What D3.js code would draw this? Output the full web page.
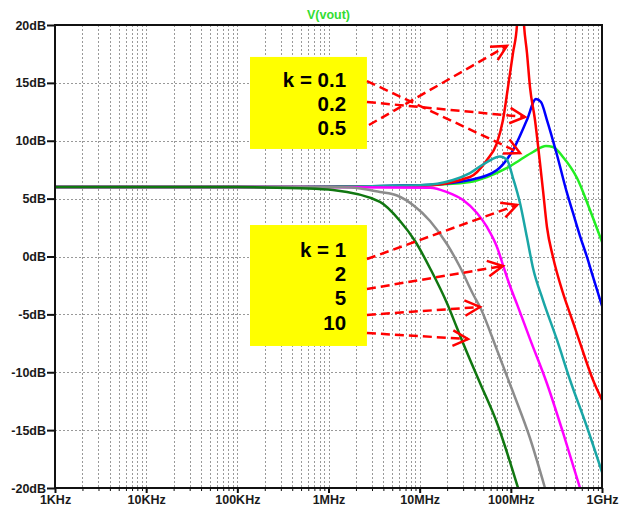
<!DOCTYPE html>
<html>
<head>
<meta charset="utf-8">
<script src="https://d3js.org/d3.v7.min.js"></script>
<style>
  body { margin: 0; background: #fff; }
  text { font-family: "Liberation Sans", Arial, sans-serif; }
</style>
</head>
<body>
<script>
// values: frequency (Hz) and gain (dB)

const tickFreqs = [1e3, 1e4, 1e5, 1e6, 1e7, 1e8, 1e9];
const tickFreqLabels = ["1KHz", "10KHz", "100KHz", "1MHz", "10MHz", "100MHz", "1GHz"];
const tickDb = [20, 15, 10, 5, 0, -5, -10, -15, -20];
const tickDbLabels = ["20dB", "15dB", "10dB", "5dB", "0dB", "-5dB", "-10dB", "-15dB", "-20dB"];

// k = 0.1 (bright green)
const fK01  = [1e3, 1e5, 4.87e5, 1.008e7, 3.56e7, 5.47e7, 9.08e7, 1.26e8, 1.75e8, 2.43e8, 2.9e8, 3.73e8, 5.32e8, 7.38e8, 1e9];
const dbK01 = [6, 6, 6, 6.15, 6.44, 6.87, 7.65, 8.34, 9.03, 9.55, 9.46, 8.6, 6.78, 4.02, 1.25];

// k = 0.2 (blue)
const fK02  = [1e3, 1e5, 4.87e5, 1.008e7, 3.56e7, 7.05e7, 1.056e8, 1.5e8, 1.887e8, 2.14e8, 2.49e8, 3.21e8, 4.13e8, 4.81e8, 5.74e8, 6.84e8, 7.97e8, 1e9];
const dbK02 = [6, 6, 6, 6.15, 6.61, 7.47, 9.2, 11.79, 13.61, 13.35, 11.79, 8.77, 5.49, 3.76, 1.77, -0.04, -1.77, -4.27];

// k = 0.5 (red), peak runs off the top
const fK05  = [1e3, 1e5, 4.87e5, 1.008e7, 3.56e7, 5.47e7, 7.05e7, 8.2e7, 9.31e7, 1.056e8, 1.168e8, 1.276e8, 1.394e8, 1.504e8, 1.622e8, 1.841e8, 2.088e8, 2.252e8, 2.49e8, 2.9e8, 3.73e8, 4.8e8, 5.74e8, 7.97e8, 1e9];
const dbK05 = [6, 6, 6, 6.09, 6.87, 8.34, 9.81, 11.79, 14.64, 17.58, 20, 26, 20, 17.58, 14.64, 11.79, 8.08, 5.74, 2.55, -0.04, -3.15, -5.66, -7.47, -10.67, -12.4];

// k = 1 (teal)
const fK1  = [1e3, 1e5, 4.87e5, 1.008e7, 2.32e7, 3.56e7, 5.47e7, 7.6e7, 9.08e7, 1.056e8, 1.26e8, 1.5e8, 1.75e8, 2.25e8, 3.21e8, 4.46e8, 6.84e8, 1e9];
const dbK1 = [6, 6, 6, 6.15, 6.61, 7.21, 8.16, 8.64, 8.34, 6.78, 4.62, 1.68, -0.99, -3.76, -7.21, -10.67, -14.73, -18.62];

// k = 2 (magenta)
const fK2  = [1e3, 1e5, 4.87e5, 1.3e7, 1.99e7, 2.99e7, 4.25e7, 5.47e7, 7.05e7, 8.2e7, 9.79e7, 1.168e8, 1.62e8, 2.49e8, 3.73e8, 5.74e8];
const dbK2 = [6, 6, 6, 5.95, 5.57, 4.88, 3.76, 2.55, 0.82, -0.74, -2.55, -4.11, -7.12, -10.97, -15.2, -20];

// k = 5 (gray)
const fK5  = [1e3, 1e5, 1e6, 1.72e6, 3.67e6, 5.64e6, 8.45e6, 1.3e7, 1.99e7, 2.77e7, 3.84e7, 4.59e7, 7.05e7, 1.056e8, 1.62e8, 2.37e8];
const dbK5 = [6, 6, 6, 5.96, 5.57, 5.27, 4.45, 3.07, 1.08, -0.91, -3.24, -4.36, -8.08, -11.71, -15.68, -20];

// k = 10 (dark green)
const fK10  = [1e3, 1e5, 4.87e5, 1.12e6, 3.67e6, 6.09e6, 8.89e6, 1.33e7, 1.99e7, 2.57e7, 2.99e7, 4.59e7, 7.05e7, 1.2e8];
const dbK10 = [6, 6, 5.89, 5.74, 4.71, 3.07, 1.34, -1.17, -4.02, -6.18, -7.47, -10.93, -14.38, -20];

// annotation boxes and arrows, in (Hz, dB)
const labelsTop = ["k = 0.1", "0.2", "0.5"];
const labelsBottom = ["k = 1", "2", "5", "10"];
const labelTopDb = [14.64, 12.57, 10.5];
const labelBottomDb = [-0.04, -2.12, -4.19, -6.35];
const arrowFrom = [[2.64e6, 15.16], [2.64e6, 13.35], [2.78e6, 11.36], [2.64e6, -0.22], [2.64e6, -2.81], [2.64e6, -5.05], [2.64e6, -6.61]];
const arrowTo   = [[1.26e8, 8.94], [1.43e8, 12.05], [9.07e7, 18.19], [1.17e8, 4.45], [8.2e7, -0.82], [4.59e7, -4.36], [3.39e7, -7.13]];

const series = [
  { f: fK01, db: dbK01, color: "#22ee22" },
  { f: fK02, db: dbK02, color: "#0000ff" },
  { f: fK05, db: dbK05, color: "#ff0000" },
  { f: fK1,  db: dbK1,  color: "#1aa6a6" },
  { f: fK2,  db: dbK2,  color: "#ff00ff" },
  { f: fK5,  db: dbK5,  color: "#8c8c8c" },
  { f: fK10, db: dbK10, color: "#117711" }
];

const width = 627, height = 509;
const margin = { left: 55, top: 25, right: 25, bottom: 21 };

const svg = d3.select("body").append("svg")
  .attr("width", width)
  .attr("height", height);

const xSc = d3.scaleLog().domain([1e3, 1e9]).range([margin.left, width - margin.right]);
const ySc = d3.scaleLinear().domain([-20, 20]).range([height - margin.bottom, margin.top]);

// GRID
const minorFreqs = [];
for (let e = 3; e < 9; e++) {
  for (let n = 1; n < 10; n++) {
    if (!(n === 1 && e === 3)) minorFreqs.push(n * Math.pow(10, e));
  }
}

const grid = svg.append("g")
  .attr("stroke", "#999")
  .attr("stroke-width", 1)
  .attr("stroke-dasharray", "2,2");

grid.selectAll(".vg").data(minorFreqs).join("line")
  .attr("x1", d => Math.round(xSc(d)) + 0.5).attr("x2", d => Math.round(xSc(d)) + 0.5)
  .attr("y1", ySc(20)).attr("y2", ySc(-20));

grid.selectAll(".hg").data(tickDb.slice(1, -1)).join("line")
  .attr("x1", xSc(1e3)).attr("x2", xSc(1e9))
  .attr("y1", d => Math.round(ySc(d)) + 0.5).attr("y2", d => Math.round(ySc(d)) + 0.5);

// AXES
const yAxis = svg.append("g")
  .attr("transform", `translate(${margin.left},0)`)
  .call(d3.axisLeft(ySc).tickValues(tickDb).tickFormat((d, i) => tickDbLabels[i]).tickSize(8).tickPadding(1));

const xMinor = svg.append("g")
  .attr("transform", `translate(0,${height - margin.bottom})`)
  .call(d3.axisBottom(xSc).tickValues(minorFreqs).tickFormat("").tickSize(3));

const xAxis = svg.append("g")
  .attr("transform", `translate(0,${height - margin.bottom})`)
  .call(d3.axisBottom(xSc).tickValues(tickFreqs).tickFormat((d, i) => tickFreqLabels[i]).tickSize(5).tickPadding(2));

[yAxis, xAxis, xMinor].forEach(g => {
  g.select(".domain").remove();
  g.selectAll("line").attr("stroke", "#111").attr("stroke-width", 2);
  g.selectAll("text")
    .attr("fill", "#1a1a1a")
    .style("font-size", "12.5px")
    .style("font-weight", "bold");
});
xMinor.selectAll("line").attr("stroke-width", 1);

// CURVES
svg.append("clipPath").attr("id", "plotClip")
  .append("rect")
  .attr("x", xSc(1e3)).attr("y", ySc(20))
  .attr("width", xSc(1e9) - xSc(1e3)).attr("height", ySc(-20) - ySc(20));

const lnMkr = d3.line()
  .x(d => xSc(d[0]))
  .y(d => ySc(d[1]))
  .curve(d3.curveMonotoneX);

svg.append("g").attr("clip-path", "url(#plotClip)")
  .selectAll("path").data(series).join("path")
  .attr("d", s => lnMkr(s.f.map((f, i) => [f, s.db[i]])))
  .attr("fill", "none")
  .attr("stroke", s => s.color)
  .attr("stroke-width", 2.5)
  .attr("stroke-linejoin", "round");

// FRAME
svg.append("rect")
  .attr("x", xSc(1e3)).attr("y", ySc(20))
  .attr("width", xSc(1e9) - xSc(1e3)).attr("height", ySc(-20) - ySc(20))
  .attr("fill", "none")
  .attr("stroke", "#111")
  .attr("stroke-width", 2);

// TITLE
svg.append("text")
  .attr("x", (xSc(1e3) + xSc(1e9)) / 2)
  .attr("y", 19)
  .attr("text-anchor", "middle")
  .attr("fill", "#33dd33")
  .style("font-size", "12.5px")
  .style("font-weight", "bold")
  .text("V(vout)");

// ANNOTATIONS
const boxes = [[17.24, 9.29], [2.72, -7.73]];
svg.selectAll(".box").data(boxes).join("rect")
  .attr("x", xSc(1.377e5))
  .attr("width", xSc(2.64e6) - xSc(1.377e5))
  .attr("y", d => ySc(d[0]))
  .attr("height", d => ySc(d[1]) - ySc(d[0]))
  .attr("fill", "#ffff00");

const labels = labelsTop.map((t, i) => [t, labelTopDb[i]])
  .concat(labelsBottom.map((t, i) => [t, labelBottomDb[i]]));

svg.selectAll(".lbl").data(labels).join("text")
  .attr("x", xSc(1.56e6))
  .attr("y", d => ySc(d[1]))
  .attr("text-anchor", "end")
  .attr("fill", "#000")
  .style("font-size", "20.5px")
  .style("font-weight", "bold")
  .text(d => d[0]);

const arrows = svg.append("g")
  .attr("stroke", "#ff0000")
  .attr("stroke-width", 2.5)
  .attr("fill", "none");

arrowFrom.forEach((a, i) => {
  const x0 = xSc(a[0]), y0 = ySc(a[1]);
  const x1 = xSc(arrowTo[i][0]), y1 = ySc(arrowTo[i][1]);
  arrows.append("line")
    .attr("x1", x0).attr("y1", y0).attr("x2", x1).attr("y2", y1)
    .attr("stroke-dasharray", "9,5");
  const ang = Math.atan2(y1 - y0, x1 - x0);
  const len = 17, spread = 27 * Math.PI / 180;
  const head = [ang + Math.PI - spread, ang + Math.PI + spread].map(t => [x1 + len * Math.cos(t), y1 + len * Math.sin(t)]);
  arrows.append("path")
    .attr("d", `M${head[0][0]},${head[0][1]}L${x1},${y1}L${head[1][0]},${head[1][1]}`);
});
</script>
</body>
</html>
